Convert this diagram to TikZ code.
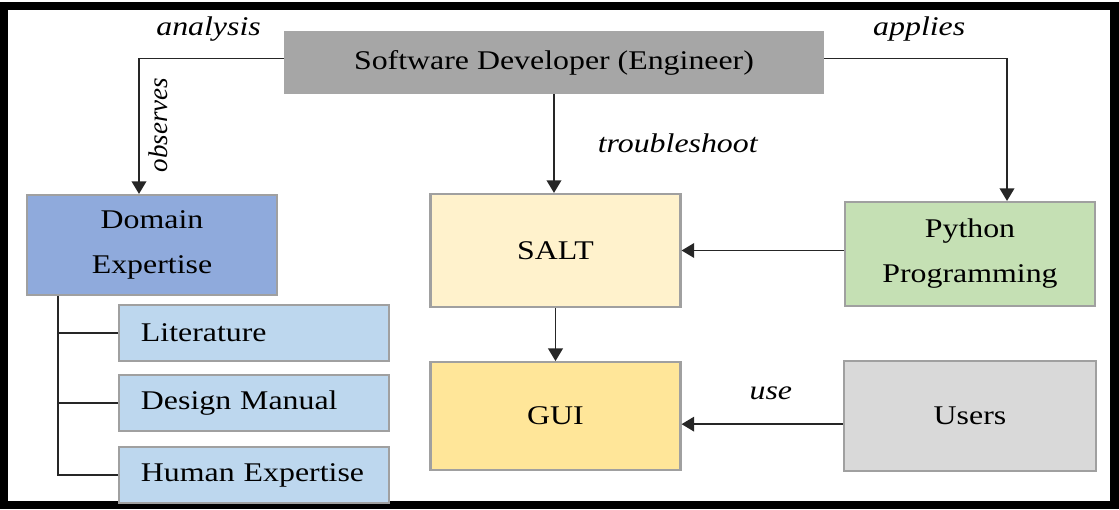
\documentclass[tikz,border=0pt]{standalone}
\usepackage{fontspec}
\setmainfont{Liberation Serif}[FakeStretch=1.18]
\newfontfamily\plainserif{Liberation Serif}
\usetikzlibrary{positioning,arrows.meta}
\definecolor{devgray}{HTML}{A6A6A6}
\definecolor{domainblue}{HTML}{8FAADC}
\definecolor{subblue}{HTML}{BDD7EE}
\definecolor{saltcream}{HTML}{FFF2CC}
\definecolor{guiyellow}{HTML}{FFE699}
\definecolor{pygreen}{HTML}{C5E0B4}
\definecolor{usergray}{HTML}{D9D9D9}
\definecolor{boxline}{HTML}{A0A0A0}

\begin{document}
\begin{tikzpicture}[x=0.025cm, y=-0.025cm, node distance=0.3cm,
  font=\fontsize{19.2}{32}\selectfont,
  box/.style={draw=boxline, line width=1.5pt, align=center, inner sep=0pt, minimum width=6.25cm},
  subbox/.style={draw=boxline, line width=1.5pt, fill=subblue, text width=5.65cm,
                 inner xsep=0.55cm, inner ysep=0pt, minimum height=1.4cm, align=left},
  lbl/.style={font=\fontsize{19.2}{32}\selectfont\itshape, inner sep=0pt},
  flow/.style={draw=black!85, line width=1.1pt, -{Triangle[width=10.5pt,length=9pt]}},
  tree/.style={draw=black!85, line width=1.1pt}]
\useasboundingbox (0,0) rectangle (1119,510);
\draw[line width=6pt] (4,6) rectangle (1114.5,505);

\node[box, fill=devgray, draw=devgray, minimum width=13.45cm, minimum height=1.525cm]
                                                  (dev)    at (554,62.5) {Software Developer (Engineer)};
\node[box, fill=domainblue, minimum height=2.5cm] (domain) at (152,245)  {Domain\\Expertise};
\node[subbox]                                     (lit)    at (254,333)  {Literature};
\node[subbox, below=0.3cm of lit]                 (manual)               {Design Manual};
\node[subbox, below=0.35cm of manual]             (human)                {Human Expertise};
\node[box, fill=saltcream, minimum height=2.825cm] (salt)  at (555.5,250.5) {SALT};
\node[box, fill=guiyellow, minimum height=2.7cm, below=1.325cm of salt] (gui) {GUI};
\node[box, fill=pygreen, minimum height=2.6cm]    (python) at (970,254)  {Python\\Programming};
\node[box, fill=usergray, minimum width=6.3cm, minimum height=2.75cm, at=(python|-gui)] (users) {Users};

\draw[flow] ([yshift=0.1cm]dev.west) -| ([xshift=-0.325cm]domain.north)
    node[lbl, pos=0.26, above=0.4cm] {analysis}
    node[lbl, pos=0.745, rotate=90, anchor=north, inner sep=0.225cm] {\plainserif observes};
\draw[flow] ([yshift=0.1cm]dev.east) -| ([xshift=0.925cm]python.north)
    node[lbl, pos=0.26, above=0.4cm] {applies};
\draw[flow] (dev.south) -- (dev.south|-salt.north)
    node[lbl, midway, right=1.075cm] {troubleshoot};
\draw[flow] (salt.east-|python.west) -- (salt.east);
\draw[flow] (salt.south) -- (salt.south|-gui.north);
\draw[flow] ([yshift=-0.2cm]users.west) -- ([yshift=-0.2cm]gui.east)
    node[lbl, pos=0.447, above=0.6cm] {use};
\foreach \sub in {lit,manual,human}
  \draw[tree] ([xshift=0.8cm]domain.south west) |- (\sub.west);
\end{tikzpicture}
\end{document}
